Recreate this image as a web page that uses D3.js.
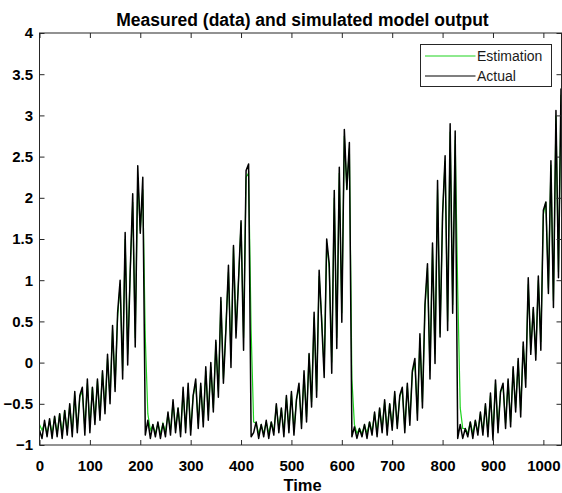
<!DOCTYPE html>
<html>
<head>
<meta charset="utf-8">
<script src="https://cdn.jsdelivr.net/npm/d3@7"></script>
<style>
  body { margin: 0; background: #fff; }
  svg { display: block; font-family: "Liberation Sans", Arial, sans-serif; }
</style>
</head>
<body>
<svg id="chart" width="562" height="493"></svg>
<script>
// readings are taken every 5 time units, starting at t = 0
const tStep = 5;

// measured output (black), one row = 50 time units
const actual = [
  -0.82, -0.92, -0.7, -0.9, -0.68, -0.92, -0.65, -0.9, -0.62, -0.92,
  -0.58, -0.88, -0.5, -0.9, -0.35, -0.85, -0.4, -0.3, -0.88, -0.2,
  -0.85, -0.3, -0.75, -0.2, -0.7, -0.1, -0.62, 0.1, -0.5, 0.45,
  -0.35, 0.6, 1.0, -0.2, 1.58, -0.03, 1.1, 2.05, 0.19, 2.39,
  1.57, 2.25, -0.88, -0.7, -0.92, -0.75, -0.9, -0.72, -0.92, -0.74,
  -0.9, -0.6, -0.88, -0.45, -0.85, -0.55, -0.9, -0.3, -0.85, -0.25,
  -0.88, -0.4, -0.2, -0.8, -0.25, -0.78, -0.05, -0.7, 0.0, -0.6,
  0.27, -0.42, 0.79, -0.25, 0.4, 1.18, -0.06, 1.42, 0.3, 1.0,
  1.72, 0.15, 2.33, 2.41, -0.9, -0.85, -0.72, -0.92, -0.75, -0.9,
  -0.7, -0.92, -0.72, -0.88, -0.5, -0.85, -0.55, -0.9, -0.4, -0.85,
  -0.35, -0.88, -0.45, -0.25, -0.8, -0.1, -0.72, 0.11, -0.54, 0.61,
  -0.42, 1.12, 0.5, -0.18, 1.5, 1.2, -0.13, 2.09, 0.17, 2.37,
  0.49, 2.83, 2.1, 2.67, -0.9, -0.78, -0.92, -0.8, -0.9, -0.75,
  -0.92, -0.72, -0.88, -0.6, -0.9, -0.55, -0.85, -0.45, -0.88, -0.5,
  -0.82, -0.35, -0.8, -0.4, -0.3, -0.85, -0.25, -0.76, -0.1, 0.05,
  -0.7, 0.35, -0.55, 0.7, 1.2, -0.2, 1.45, -0.01, 2.21, 0.31,
  1.8, 2.51, 0.39, 2.9, 0.6, 2.81, -0.92, -0.75, -0.92, -0.8,
  -0.9, -0.72, -0.92, -0.7, -0.88, -0.6, -0.88, -0.5, -0.9, -0.37,
  -0.94, -0.21, -0.85, -0.35, -0.25, -0.8, -0.2, -0.78, -0.05, -0.6,
  0.05, -0.66, 0.25, -0.3, 1.03, 0.1, 0.67, 0.03, 1.05, 0.15,
  1.85, 1.95, 0.84, 2.45, 0.67, 3.06, 1.03, 3.32, 3.1
];

// simulated model output (green)
const estimation = [
  -0.75, -0.82, -0.74, -0.86, -0.7, -0.86, -0.66, -0.86, -0.62, -0.86,
  -0.58, -0.84, -0.52, -0.84, -0.4, -0.8, -0.42, -0.35, -0.8, -0.25,
  -0.78, -0.3, -0.7, -0.22, -0.64, -0.12, -0.56, 0.05, -0.45, 0.4,
  -0.3, 0.55, 0.95, -0.1, 1.5, 0.1, 1.1, 1.95, 0.3, 2.25,
  1.6, 2.1, 0.3, -0.62, -0.82, -0.76, -0.86, -0.74, -0.86, -0.74,
  -0.84, -0.62, -0.82, -0.48, -0.8, -0.55, -0.84, -0.35, -0.8, -0.3,
  -0.82, -0.4, -0.25, -0.74, -0.28, -0.72, -0.1, -0.64, -0.05, -0.55,
  0.25, -0.35, 0.75, -0.2, 0.45, 1.1, 0.05, 1.4, 0.4, 1.0,
  1.7, 0.3, 2.25, 2.3, 0.4, -0.72, -0.74, -0.86, -0.76, -0.86,
  -0.72, -0.86, -0.72, -0.84, -0.52, -0.8, -0.56, -0.84, -0.42, -0.8,
  -0.38, -0.82, -0.45, -0.3, -0.74, -0.15, -0.66, 0.1, -0.48, 0.55,
  -0.35, 1.05, 0.55, -0.1, 1.45, 1.15, 0.0, 2.0, 0.3, 2.3,
  0.6, 2.75, 2.1, 2.6, -0.2, -0.75, -0.86, -0.8, -0.86, -0.76,
  -0.86, -0.72, -0.84, -0.62, -0.84, -0.56, -0.8, -0.48, -0.82, -0.5,
  -0.78, -0.38, -0.76, -0.42, -0.32, -0.8, -0.28, -0.7, -0.12, 0.0,
  -0.62, 0.3, -0.48, 0.65, 1.15, -0.1, 1.4, 0.1, 2.1, 0.35,
  1.8, 2.45, 0.5, 2.8, 0.7, 2.7, 0.9, -0.55, -0.8, -0.8,
  -0.86, -0.72, -0.86, -0.7, -0.84, -0.62, -0.84, -0.52, -0.84, -0.4,
  -0.86, -0.25, -0.8, -0.36, -0.28, -0.74, -0.22, -0.72, -0.08, -0.55,
  0.02, -0.58, 0.2, -0.2, 0.95, 0.15, 0.65, 0.1, 1.0, 0.25,
  1.8, 1.95, 0.9, 2.4, 0.75, 3.0, 1.1, 3.25, 3.05
];

const xTicks = [0, 100, 200, 300, 400, 500, 600, 700, 800, 900, 1000];
const yTicks = [-1, -0.5, 0, 0.5, 1, 1.5, 2, 2.5, 3, 3.5, 4];
const legendNames = ["Estimation", "Actual"];
const lineColors = ["#1fd31f", "#000"];

const svg = d3.select("#chart");
const plotLeft = 39.5, plotRight = 561.5, plotTop = 33, plotBottom = 445;

const x = d3.scaleLinear().domain([0, 1036]).range([plotLeft, plotRight]);
const y = d3.scaleLinear().domain([-1, 4]).range([plotBottom, plotTop]);

svg.append("rect").attr("width", 562).attr("height", 493).attr("fill", "#fff");

svg.append("clipPath").attr("id", "plotClip")
  .append("rect")
  .attr("x", plotLeft).attr("y", plotTop)
  .attr("width", plotRight - plotLeft).attr("height", plotBottom - plotTop);

const line = d3.line()
  .x((d, i) => x(i * tStep))
  .y(d => y(d));

const plot = svg.append("g").attr("clip-path", "url(#plotClip)");

plot.append("path")
  .datum(estimation)
  .attr("fill", "none")
  .attr("stroke", lineColors[0])
  .attr("stroke-width", 1.2)
  .attr("d", line);

plot.append("path")
  .datum(actual)
  .attr("fill", "none")
  .attr("stroke", lineColors[1])
  .attr("stroke-width", 1.5)
  .attr("stroke-linejoin", "round")
  .attr("d", line);

// axes, ticks point inwards on all four sides
function styleAxis(g) {
  g.select(".domain").remove();
  g.selectAll(".tick line").attr("stroke", "#262626");
  g.selectAll("text")
    .attr("fill", "#000")
    .style("font-size", "15px")
    .style("font-weight", "bold");
}

svg.append("g")
  .attr("transform", `translate(0,${plotBottom})`)
  .call(d3.axisBottom(x).tickValues(xTicks).tickSize(-5).tickPadding(15).tickFormat(d3.format("d")))
  .call(styleAxis);

svg.append("g")
  .attr("transform", `translate(0,${plotTop})`)
  .call(d3.axisTop(x).tickValues(xTicks).tickSize(-5).tickFormat(""))
  .call(styleAxis);

svg.append("g")
  .attr("transform", `translate(${plotLeft},0)`)
  .call(d3.axisLeft(y).tickValues(yTicks).tickSize(-5).tickPadding(6.5).tickFormat(d3.format("")))
  .call(styleAxis);

svg.append("g")
  .attr("transform", `translate(${plotRight},0)`)
  .call(d3.axisRight(y).tickValues(yTicks).tickSize(-5).tickFormat(""))
  .call(styleAxis);

svg.append("rect")
  .attr("x", plotLeft).attr("y", plotTop)
  .attr("width", plotRight - plotLeft).attr("height", plotBottom - plotTop)
  .attr("fill", "none")
  .attr("stroke", "#262626")
  .attr("stroke-width", 1);

// title and axis label
svg.append("text")
  .attr("x", (plotLeft + plotRight) / 2 + 2)
  .attr("y", 26)
  .attr("text-anchor", "middle")
  .style("font-size", "17.5px")
  .style("font-weight", "bold")
  .text("Measured (data) and simulated model output");

svg.append("text")
  .attr("x", (plotLeft + plotRight) / 2 + 2)
  .attr("y", 491)
  .attr("text-anchor", "middle")
  .style("font-size", "16.5px")
  .style("font-weight", "bold")
  .text("Time");

// legend
const legend = svg.append("g").attr("transform", "translate(420.5,44.5)");
legend.append("rect")
  .attr("width", 131).attr("height", 42)
  .attr("fill", "#fff")
  .attr("stroke", "#262626");

legendNames.forEach((name, i) => {
  const ly = 11.5 + i * 20;
  legend.append("line")
    .attr("x1", 4.5).attr("x2", 55)
    .attr("y1", ly).attr("y2", ly)
    .attr("stroke", lineColors[i])
    .attr("stroke-width", 1.1);
  legend.append("text")
    .attr("x", 56.5).attr("y", ly + 5)
    .style("font-size", "14px")
    .attr("fill", "#1a1a1a")
    .text(name);
});
</script>
</body>
</html>
